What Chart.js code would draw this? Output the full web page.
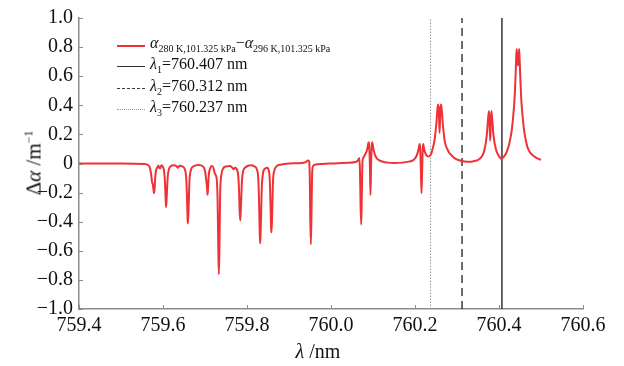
<!DOCTYPE html>
<html>
<head>
<meta charset="utf-8">
<script src="https://cdn.jsdelivr.net/npm/chart.js@4"></script>
<style>
  body { margin: 0; background: #fff; }
  #wrap { position: relative; width: 624px; height: 366px; font-family: 'Liberation Serif', 'DejaVu Serif', serif; color: #111; }
  #legend { position: absolute; left: 117px; top: 35px; font-size: 16px; line-height: 21.3px; }
  #legend .row { display: flex; align-items: center; height: 21.3px; white-space: nowrap; }
  #legend .sample { width: 28px; height: 0; margin-right: 5px; }
  #legend sub { font-size: 10px; vertical-align: -4px; }
  #ytitle { position: absolute; left: 34px; top: 163px; font-size: 21px; white-space: nowrap; transform: translate(-50%, -50%) rotate(-90deg); }
  #ytitle sup { font-size: 12px; vertical-align: 8px; }
  #xtitle { position: absolute; left: 318px; top: 351px; font-size: 20px; white-space: nowrap; transform: translate(-50%, -50%); }
</style>
</head>
<body>
<div id="wrap">
  <canvas id="chart" width="624" height="366"></canvas>
  <div id="legend"></div>
  <div id="ytitle">Δ<i>α</i> /m<sup>−1</sup></div>
  <div id="xtitle"><i>λ</i> /nm</div>
</div>
<script>
// wavelength (nm) and difference of absorption coefficient (1/m)
const wavelength = [
  759.400, 759.500, 759.555, 759.565, 759.569, 759.572, 759.574, 759.5755, 759.577, 759.5785,
  759.580, 759.582, 759.584, 759.587, 759.589, 759.591, 759.593, 759.595, 759.597, 759.600,
  759.603, 759.605, 759.6065, 759.6075, 759.609, 759.611, 759.614, 759.618, 759.625, 759.632,
  759.6355, 759.639, 759.646, 759.652, 759.655, 759.657, 759.6585, 759.6595, 759.661, 759.663,
  759.666, 759.672, 759.685, 759.695, 759.700, 759.7035, 759.705, 759.706, 759.707, 759.709,
  759.712, 759.716, 759.720, 759.723, 759.7255, 759.728, 759.730, 759.7315, 759.733, 759.7345,
  759.736, 759.739, 759.743, 759.750, 759.758, 759.764, 759.768, 759.771, 759.776, 759.779,
  759.781, 759.7825, 759.784, 759.7855, 759.788, 759.791, 759.797, 759.808, 759.818, 759.824,
  759.827, 759.829, 759.8305, 759.8315, 759.833, 759.835, 759.838, 759.843, 759.848, 759.852,
  759.854, 759.856, 759.8575, 759.8585, 759.860, 759.862, 759.865, 759.870, 759.880, 759.900,
  759.930, 759.940, 759.9455, 759.948, 759.9495, 759.9505, 759.952, 759.9535, 759.955, 759.957,
  759.962, 759.980, 760.000, 760.040, 760.060, 760.065, 760.0675, 760.069, 760.0705, 760.072,
  760.0735, 760.075, 760.077, 760.079, 760.082, 760.085, 760.087, 760.0885, 760.090, 760.091,
  760.0925, 760.094, 760.0955, 760.097, 760.098, 760.0995, 760.101, 760.103, 760.106, 760.110,
  760.115, 760.122, 760.135, 760.150, 760.170, 760.185, 760.195, 760.200, 760.204, 760.207,
  760.209, 760.211, 760.2125, 760.214, 760.2155, 760.217, 760.2185, 760.2195, 760.221, 760.223,
  760.226, 760.229, 760.233, 760.236, 760.239, 760.2418, 760.2445, 760.247, 760.249, 760.251,
  760.2525, 760.254, 760.2554, 760.2568, 760.2585, 760.2602, 760.2616, 760.263, 760.2645, 760.266,
  760.268, 760.270, 760.2725, 760.2768, 760.281, 760.2888, 760.295, 760.305, 760.318, 760.330,
  760.340, 760.348, 760.354, 760.359, 760.3635, 760.3665, 760.369, 760.371, 760.3725, 760.374,
  760.3762, 760.3778, 760.379, 760.3802, 760.3818, 760.383, 760.3845, 760.386, 760.388, 760.3905,
  760.394, 760.398, 760.403, 760.405, 760.410, 760.415, 760.419, 760.423, 760.4265, 760.4296,
  760.432, 760.434, 760.436, 760.4375, 760.439, 760.4405, 760.442, 760.4435, 760.445, 760.4465,
  760.448, 760.4495, 760.451, 760.4525, 760.454, 760.456, 760.458, 760.4605, 760.4635, 760.467,
  760.471, 760.4756, 760.481, 760.487, 760.494, 760.500
];
const deltaAlpha = [
  0, 0, -0.004, -0.012, -0.03, -0.08, -0.13, -0.14, -0.17, -0.205,
  -0.17, -0.08, -0.04, -0.025, -0.013, -0.03, -0.034, -0.018, -0.012, -0.025,
  -0.06, -0.15, -0.26, -0.30, -0.22, -0.10, -0.04, -0.02, -0.012, -0.018,
  -0.03, -0.016, -0.02, -0.04, -0.09, -0.22, -0.38, -0.412, -0.30, -0.12,
  -0.05, -0.02, -0.01, -0.02, -0.05, -0.13, -0.17, -0.215, -0.18, -0.08,
  -0.035, -0.018, -0.03, -0.065, -0.08, -0.11, -0.25, -0.55, -0.762, -0.55,
  -0.22, -0.08, -0.035, -0.02, -0.018, -0.025, -0.04, -0.03, -0.04, -0.08,
  -0.18, -0.33, -0.392, -0.30, -0.12, -0.05, -0.025, -0.012, -0.02, -0.045,
  -0.11, -0.30, -0.50, -0.55, -0.42, -0.18, -0.07, -0.035, -0.03, -0.05,
  -0.10, -0.28, -0.45, -0.473, -0.33, -0.12, -0.05, -0.02, -0.008, 0,
  0.003, 0.01, 0.02, 0.015, -0.10, -0.35, -0.555, -0.35, -0.08, -0.02,
  -0.008, -0.003, 0, 0.005, 0.012, 0.025, 0.038, -0.05, -0.30, -0.42,
  -0.20, 0.01, 0.04, 0.05, 0.067, 0.085, 0.11, 0.135, 0.146, 0.12,
  0.0, -0.216, 0.0, 0.12, 0.146, 0.13, 0.10, 0.075, 0.05, 0.032,
  0.022, 0.014, 0.006, 0.003, 0.006, 0.013, 0.022, 0.035, 0.055, 0.08,
  0.105, 0.134, 0.10, -0.05, -0.204, -0.05, 0.10, 0.134, 0.11, 0.085,
  0.062, 0.052, 0.048, 0.055, 0.07, 0.10, 0.13, 0.17, 0.22, 0.28,
  0.34, 0.39, 0.405, 0.36, 0.21, 0.36, 0.405, 0.39, 0.34, 0.28,
  0.22, 0.17, 0.13, 0.10, 0.075, 0.05, 0.035, 0.022, 0.014, 0.012,
  0.016, 0.022, 0.032, 0.048, 0.075, 0.11, 0.15, 0.20, 0.25, 0.31,
  0.36, 0.26, 0.157, 0.26, 0.36, 0.33, 0.28, 0.22, 0.17, 0.125,
  0.085, 0.06, 0.038, 0.034, 0.042, 0.06, 0.085, 0.12, 0.165, 0.213,
  0.27, 0.33, 0.40, 0.47, 0.57, 0.69, 0.787, 0.72, 0.674, 0.72,
  0.787, 0.69, 0.57, 0.47, 0.40, 0.33, 0.27, 0.213, 0.165, 0.12,
  0.09, 0.07, 0.055, 0.042, 0.032, 0.026
];

// marked wavelengths
const lambdaValues = [760.407, 760.312, 760.237];
const lambdaStyles = [
  { color: '#34313f', dash: [], width: 1.5, css: '1.5px solid #34313f' },
  { color: '#3c3c3c', dash: [8, 5], width: 1.5, css: '1.5px dashed #3c3c3c' },
  { color: '#9a9a9a', dash: [1.5, 1.5], width: 1, css: '1px dotted #9a9a9a' },
];

const xTicks = [759.4, 759.6, 759.8, 760.0, 760.2, 760.4, 760.6];
const yTicks = [-1, -0.8, -0.6, -0.4, -0.2, 0, 0.2, 0.4, 0.6, 0.8, 1];

const curveColor = 'rgb(238,50,55)';
const axisColor = '#8c8c8c';
const tickFont = { family: "'Liberation Serif', 'DejaVu Serif', serif", size: 20 };

// legend (html so the subscripts can be typeset)
const legendEl = document.getElementById('legend');
legendEl.innerHTML =
  `<div class="row"><span class="sample" style="border-top:2px solid ${curveColor}"></span>` +
  `<span><i>α</i><sub>280 K,101.325 kPa</sub>−<i>α</i><sub>296 K,101.325 kPa</sub></span></div>` +
  lambdaValues.map((v, i) =>
    `<div class="row"><span class="sample" style="border-top:${lambdaStyles[i].css}"></span>` +
    `<span><i>λ</i><sub>${i + 1}</sub>=${v.toFixed(3)} nm</span></div>`
  ).join('');

// tick marks pointing into the plot
const inwardTicks = {
  id: 'inwardTicks',
  afterDatasetsDraw(chart) {
    const { ctx, scales: { x, y } } = chart;
    ctx.save();
    ctx.strokeStyle = axisColor;
    ctx.lineWidth = 1;
    ctx.beginPath();
    xTicks.forEach(t => {
      const px = Math.round(x.getPixelForValue(t)) + 0.5;
      ctx.moveTo(px, y.bottom);
      ctx.lineTo(px, y.bottom - 4);
    });
    yTicks.forEach(t => {
      const py = Math.round(y.getPixelForValue(t)) + 0.5;
      ctx.moveTo(x.left, py);
      ctx.lineTo(x.left + 4, py);
    });
    ctx.stroke();
    ctx.restore();
  }
};

const datasets = [
  {
    label: 'curve',
    data: wavelength.map((w, i) => ({ x: w, y: deltaAlpha[i] })),
    borderColor: curveColor,
    borderWidth: 2,
    pointRadius: 0,
    cubicInterpolationMode: 'monotone',
  },
  ...lambdaValues.map((v, i) => ({
    label: 'lambda' + (i + 1),
    data: [{ x: v, y: -1 }, { x: v, y: 1 }],
    borderColor: lambdaStyles[i].color,
    borderDash: lambdaStyles[i].dash,
    borderWidth: lambdaStyles[i].width,
    pointRadius: 0,
  })),
];

new Chart(document.getElementById('chart'), {
  type: 'line',
  data: { datasets },
  options: {
    responsive: false,
    animation: false,
    layout: { padding: { top: 14, right: 41, left: 0, bottom: 0 } },
    plugins: { legend: { display: false }, tooltip: { enabled: false } },
    scales: {
      x: {
        type: 'linear',
        min: 759.4,
        max: 760.6,
        afterFit(s) { s.height = 57; },
        afterBuildTicks(s) { s.ticks = xTicks.map(v => ({ value: v })); },
        ticks: {
          color: '#111',
          font: tickFont,
          padding: 5,
          maxRotation: 0,
          autoSkip: false,
          callback: v => v.toFixed(1),
        },
        grid: { display: false, drawTicks: false },
        border: { color: axisColor, width: 1.5 },
      },
      y: {
        min: -1,
        max: 1,
        afterFit(s) { s.width = 79; },
        afterBuildTicks(s) { s.ticks = yTicks.map(v => ({ value: v })); },
        ticks: {
          color: '#111',
          font: tickFont,
          padding: 6,
          autoSkip: false,
          callback: v => Math.abs(v) < 1e-9 ? '0' : (v < 0 ? '−' : '') + Math.abs(v).toFixed(1),
        },
        grid: { display: false, drawTicks: false },
        border: { color: axisColor, width: 1.5 },
      },
    },
  },
  plugins: [inwardTicks],
});
</script>
</body>
</html>
